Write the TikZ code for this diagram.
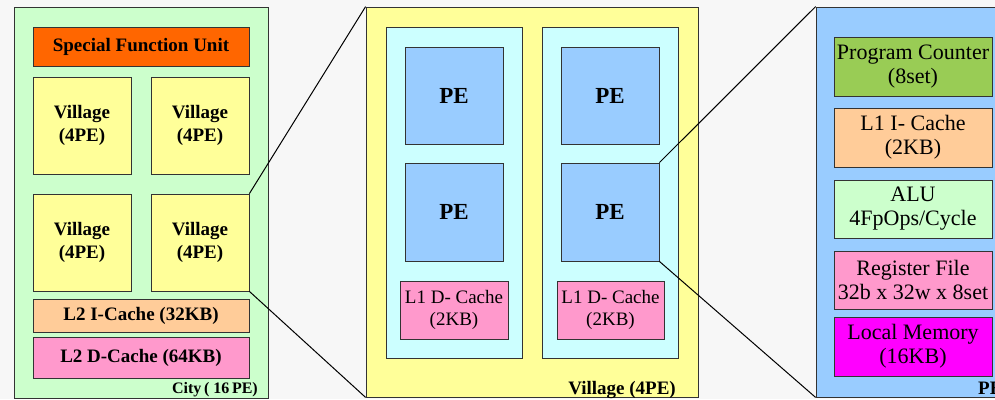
\documentclass[tikz,border=0pt]{standalone}
\usepackage{fontspec}
\setmainfont{Liberation Serif}
\usepackage{tikz}
\usepackage{xcolor}

\definecolor{cityfill}{HTML}{CCFFCC}
\definecolor{sfufill}{HTML}{FF6600}
\definecolor{vilfill}{HTML}{FFFF99}
\definecolor{icfill}{HTML}{FFCC99}
\definecolor{dcfill}{HTML}{FF99CC}
\definecolor{colfill}{HTML}{CCFFFF}
\definecolor{pefill}{HTML}{99CCFF}
\definecolor{pcfill}{HTML}{99CC55}
\definecolor{lmfill}{HTML}{FF00FF}
\definecolor{bgfill}{HTML}{F7F7F7}

\tikzset{
  blk/.style={draw=black!80,line width=0.8pt,inner sep=0pt,align=center},
  bold/.style={font=\fontsize{19}{23}\selectfont\bfseries},
  pebold/.style={font=\fontsize{23}{26}\selectfont\bfseries},
  plain/.style={font=\fontsize{22}{24}\selectfont},
  small/.style={font=\fontsize{19}{22}\selectfont},
  tag/.style={inner sep=0pt,font=\fontsize{16}{18}\selectfont\bfseries}
}

\begin{document}
\begin{tikzpicture}[x=1pt,y=-1pt]
  \useasboundingbox (0,0) rectangle (995,399);
  \clip (0,0) rectangle (995,399);
  \fill[bgfill] (0,0) rectangle (995,399);

  % city
  \node[blk,fill=cityfill,minimum width=254pt,minimum height=391pt] (city) at (141,202.5) {};
  \node[blk,bold,fill=sfufill,minimum width=216pt,minimum height=39pt] (sfu) at (141,46.5) {Special Function Unit};
  \node[blk,bold,fill=vilfill,minimum width=98pt,minimum height=97pt] (vil1) at (82,125.5) {Village\\(4PE)};
  \node[blk,bold,fill=vilfill,minimum width=98pt,minimum height=97pt] (vil2) at (200,125.5) {Village\\(4PE)};
  \node[blk,bold,fill=vilfill,minimum width=98pt,minimum height=97pt] (vil3) at (82,242.5) {Village\\(4PE)};
  \node[blk,bold,fill=vilfill,minimum width=98pt,minimum height=97pt] (vil4) at (200,242.5) {Village\\(4PE)};
  \node[blk,bold,fill=icfill,minimum width=216pt,minimum height=33pt] (l2i) at (141,315.5) {L2 I-Cache (32KB)};
  \node[blk,bold,fill=dcfill,minimum width=216pt,minimum height=41pt] (l2d) at (141,357.5) {L2 D-Cache (64KB)};
  \node[tag,anchor=base east] (citytag) at (258,393) {City\,( 16\,PE)};

  % village
  \node[blk,fill=vilfill,minimum width=332pt,minimum height=390pt] (vbig) at (532,202) {};
  \node[blk,fill=colfill,minimum width=136pt,minimum height=331pt] (colL) at (454,192.5) {};
  \node[blk,fill=colfill,minimum width=136pt,minimum height=331pt] (colR) at (610,192.5) {};
  \node[blk,pebold,fill=pefill,minimum width=98pt,minimum height=97pt] (pe1) at (454,95.5) {PE};
  \node[blk,pebold,fill=pefill,minimum width=98pt,minimum height=98pt] (pe2) at (454,212) {PE};
  \node[blk,pebold,fill=pefill,minimum width=98pt,minimum height=97pt] (pe3) at (610,95.5) {PE};
  \node[blk,pebold,fill=pefill,minimum width=98pt,minimum height=98pt] (pe4) at (610,212) {PE};
  \node[blk,small,fill=dcfill,minimum width=108pt,minimum height=58pt] (l1dL) at (454,310) {L1 D- Cache\\(2KB)};
  \node[blk,small,fill=dcfill,minimum width=107pt,minimum height=58pt] (l1dR) at (610.5,310) {L1 D- Cache\\(2KB)};
  \node[tag,font=\fontsize{19}{22}\selectfont\bfseries,anchor=base east] (viltag) at (676,394) {Village (4PE)};

  % pe
  \node[blk,fill=pefill,minimum width=194pt,minimum height=390pt] (pebig) at (913,202) {};
  \node[blk,plain,fill=pcfill,minimum width=158pt,minimum height=59pt] (pc) at (913,66.5) {Program Counter\\(8set)};
  \node[blk,plain,fill=icfill,minimum width=158pt,minimum height=59pt] (l1i) at (913,137.5) {L1 I- Cache\\(2KB)};
  \node[blk,plain,fill=cityfill,minimum width=158pt,minimum height=58pt] (alu) at (913,209) {ALU\\4FpOps/Cycle};
  \node[blk,plain,fill=dcfill,minimum width=158pt,minimum height=58pt] (rf) at (913,280) {Register File\\32b x 32w x 8set};
  \node[blk,plain,fill=lmfill,minimum width=158pt,minimum height=59pt] (lm) at (913,346.5) {Local Memory\\(16KB)};
  \node[tag,font=\fontsize{19}{22}\selectfont\bfseries,anchor=base west] (petag) at (978,394) {PE};

  % zoom lines
  \draw[line width=1pt] (vil4.north east) -- (vbig.north west);
  \draw[line width=1pt] (vil4.south east) -- (vbig.south west);
  \draw[line width=1pt] (pe4.north east) -- (pebig.north west);
  \draw[line width=1pt] (pe4.south east) -- (pebig.south west);
\end{tikzpicture}
\end{document}
